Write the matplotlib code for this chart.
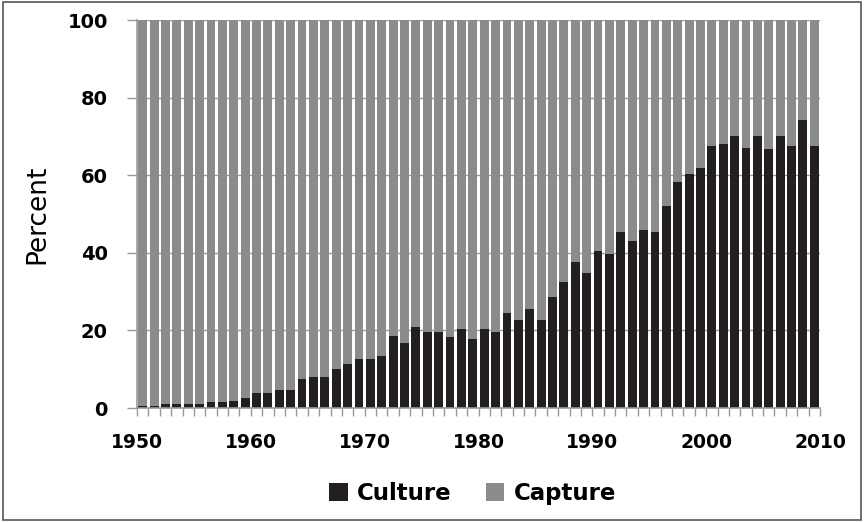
import matplotlib.pyplot as plt
import matplotlib.ticker as mticker
import numpy as np
from matplotlib.patches import Rectangle

# ── data ──────────────────────────────────────────────────────────────────────
years = list(range(1950, 2010))

# culture share of total production (%)
culture = [
    0.5, 0.5, 1.1, 1.1, 1.1, 1.1, 1.6, 1.6, 1.9, 2.7,
    3.9, 3.8, 4.6, 4.6, 7.4, 8.1, 8.1, 10.0, 11.3, 12.6,
    12.6, 13.5, 18.6, 16.8, 21.0, 19.5, 19.7, 18.2, 20.4, 17.7,
    20.4, 19.7, 24.4, 22.7, 25.4, 22.7, 28.7, 32.6, 37.7, 34.9,
    40.5, 39.7, 45.4, 43.1, 45.9, 45.4, 52.1, 58.3, 60.3, 61.8,
    67.4, 68.0, 70.1, 67.1, 70.1, 66.7, 70.1, 67.4, 74.1, 67.4,
]
capture = [100 - c for c in culture]

x_labels = ["1950", "1960", "1970", "1980", "1990", "2000", "2010"]
y_ticks = [0, 20, 40, 60, 80, 100]

# ── visual settings ───────────────────────────────────────────────────────────
color_culture = "#231f20"
color_capture = "#8a8b8d"
axis_gray = "#9a9a9a"

plt.rcParams.update({
    "font.family": "DejaVu Sans",
    "font.size": 13,
})

fig = plt.figure(figsize=(8.64, 5.22), dpi=100)
ax = fig.add_axes([137 / 864, 1 - 408 / 522, (820 - 137) / 864, (408 - 20) / 522])

x = np.array(years) + 0.5
ax.bar(x, culture, width=0.78, color=color_culture, zorder=3, label="Culture")
ax.bar(x, capture, width=0.78, bottom=culture, color=color_capture, zorder=3,
       label="Capture")

ax.set_xlim(1950, 2010)
ax.set_ylim(0, 100)

ax.set_xticks([int(v) for v in x_labels])
ax.set_xticklabels(x_labels, fontweight="bold")
ax.xaxis.set_minor_locator(mticker.MultipleLocator(1))
ax.set_yticks(y_ticks)
ax.set_yticklabels([str(v) for v in y_ticks], fontweight="bold")

ax.tick_params(axis="x", which="both", direction="out", length=6, width=1,
               color=axis_gray, pad=12, labelsize=13.5)
ax.tick_params(axis="y", direction="out", length=7, width=1, color=axis_gray,
               pad=14, labelsize=14)

ax.yaxis.grid(True, color=axis_gray, lw=1, zorder=0)
ax.set_axisbelow(True)

for side in ["top", "right"]:
    ax.spines[side].set_visible(False)
for side in ["left", "bottom"]:
    ax.spines[side].set_color(axis_gray)
    ax.spines[side].set_linewidth(1.2)
    ax.spines[side].set_zorder(4)

ax.set_ylabel("Percent", fontsize=19, labelpad=12)

fig.legend(loc="center", bbox_to_anchor=(0.547, 0.055), ncol=2, frameon=False,
           handlelength=0.8, handleheight=0.8, handletextpad=0.4,
           columnspacing=1.5, prop={"weight": "bold", "size": 16.5})

# thin frame around the whole picture
fig.patches.append(Rectangle((0.003, 0.004), 0.994, 0.992, transform=fig.transFigure,
                             fill=False, edgecolor="#555555", lw=1.2))

fig.savefig("out.png", dpi=100)
